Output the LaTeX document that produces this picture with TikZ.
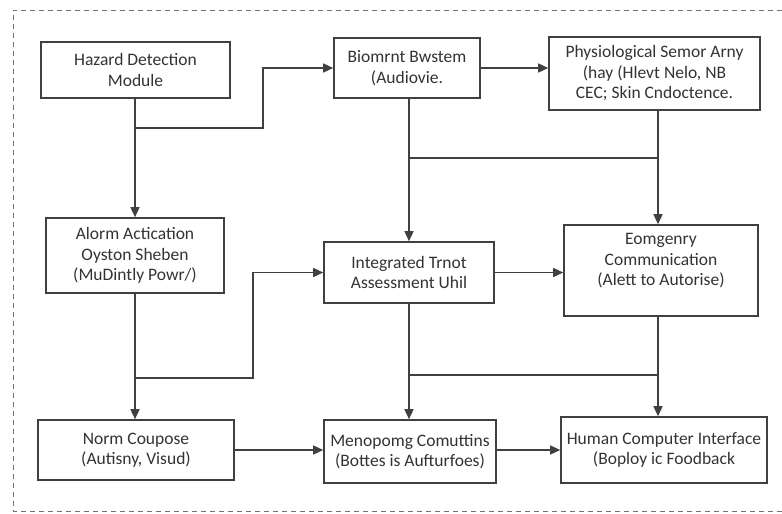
\documentclass[tikz,border=0pt]{standalone}
\usepackage{fontspec}
\setmainfont{Carlito}
\usetikzlibrary{arrows.meta}
\definecolor{lin}{HTML}{404040}
\definecolor{txc}{HTML}{333333}
\begin{document}
\begin{tikzpicture}[x=1pt,y=-1pt,
  box/.style={draw=lin, line width=1.6pt, fill=white, inner sep=0pt,
    align=center, text=txc, font=\fontsize{17.5}{20.5}\selectfont},
  txt/.style={align=center, text=txc, font=\fontsize{17.5}{20.5}\selectfont, inner sep=0pt},
  conn/.style={draw=lin, line width=1.4pt},
  arr/.style={conn, -{Triangle[length=10pt,width=9pt]}},
  frame/.style={draw=black!55, line width=0.9pt, dash pattern=on 5pt off 4pt}]
\useasboundingbox (0,0) rectangle (782,514);
\fill[white] (0,0) rectangle (782,514);
% dashed frame (top, left, bottom)
\coordinate (fr1) at (782,10);
\coordinate (fr2) at (13,10);
\coordinate (fr3) at (13,511);
\coordinate (fr4) at (782,511);
\draw[frame] (fr1) -- (fr2) -- (fr3) -- (fr4);

% boxes
\node[box, minimum width=189pt, minimum height=56pt] (haz) at (135.5,70) {Hazard Detection\\Module};
\node[box, minimum width=146pt, minimum height=60pt] (bio) at (407,68) {Biomrnt Bwstem\\(Audiovie.};
\node[box, minimum width=211pt, minimum height=73pt] (phy) at (654.5,73.5) {Physiological Semor Arny\\(hay (Hlevt Nelo, NB\\CEC; Skin Cndoctence.};
\node[box, minimum width=178pt, minimum height=75pt] (alm) at (135,255.5) {Alorm Actication\\Oyston Sheben\\(MuDintly Powr/)};
\node[box, minimum width=170pt, minimum height=61pt] (ita) at (409,272.5) {Integrated Trnot\\Assessment Uhil};
\node[box, minimum width=194pt, minimum height=91pt] (emg) at (661,270.5) {};
\node[txt] (emgt) at (661,261) {Eomgenry\\Communication\\(Alett to Autorise)};
\node[box, minimum width=196pt, minimum height=60pt] (nrm) at (136,450) {Norm Coupose\\(Autisny, Visud)};
\node[box, minimum width=172pt, minimum height=63pt] (msg) at (410,451.5) {Menopomg Comuttins\\(Bottes is Aufturfoes)};
\node[box, minimum width=206pt, minimum height=66pt] (hci) at (664,450) {Human Computer Interface\\(Boploy ic Foodback};

% junction coordinates
\coordinate (j1) at (135,128);
\coordinate (b1) at (263,128);
\coordinate (c1) at (409,158);
\coordinate (c2) at (658,158);
\coordinate (j2) at (135,378);
\coordinate (b2) at (253,378);
\coordinate (d1) at (409,375);
\coordinate (d2) at (658,375);

% connectors
\draw[arr] (haz.south -| j1) -- (alm.north -| j1);
\draw[arr] (j1) -- (b1) |- (bio.west);
\draw[arr] (bio.east) -- (bio.east -| phy.west);
\draw[arr] (bio.south -| c1) -- (ita.north -| c1);
\draw[arr] (phy.south -| c2) -- (emg.north -| c2);
\draw[conn] (c1) -- (c2);
\draw[arr] (alm.south -| j2) -- (nrm.north -| j2);
\draw[arr] (j2) -- (b2) |- (ita.west);
\draw[arr] (ita.east) -- (ita.east -| emg.west);
\draw[arr] (ita.south -| d1) -- (msg.north -| d1);
\draw[arr] (emg.south -| d2) -- (hci.north -| d2);
\draw[conn] (d1) -- (d2);
\draw[arr] (nrm.east) -- (nrm.east -| msg.west);
\draw[arr] (msg.east |- nrm.east) -- (nrm.east -| hci.west);
\end{tikzpicture}
\end{document}
